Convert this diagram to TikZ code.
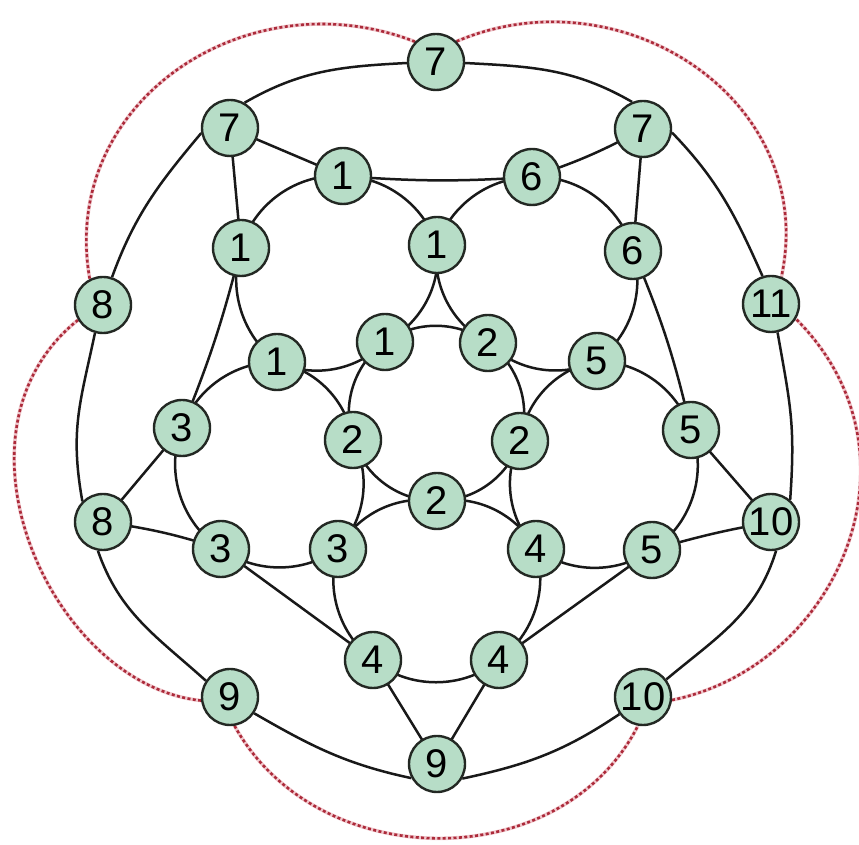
\documentclass[tikz,border=0pt]{standalone}
\usepackage{fontspec}
\setmainfont{Liberation Sans}
\usetikzlibrary{backgrounds}
\definecolor{nodefill}{RGB}{183,221,199}
\definecolor{nodeline}{RGB}{35,40,35}
\definecolor{edgecol}{RGB}{25,25,25}
\definecolor{dotred}{RGB}{172,42,58}
\definecolor{dothalo}{RGB}{240,200,205}
\tikzset{
  vtx/.style={circle, draw=nodeline, fill=nodefill, line width=2.4pt, minimum size=56pt, inner sep=0pt, font=\fontsize{40}{40}\selectfont},
  conn/.style={draw=edgecol, line width=2.5pt},
  ringarc/.style={conn, looseness=0.94},
  dotarc/.style={draw=dotred, line width=2.6pt, dash pattern=on 3pt off 2.4pt, preaction={draw=dothalo, line width=3.6pt, solid}}
}
\begin{document}
\begin{tikzpicture}[x=1pt,y=1pt]
\useasboundingbox (0,0) rectangle (859,845);
% nodes
\node[vtx] (A) at (436,783) {7};
\node[vtx] (B) at (230,717) {7};
\node[vtx] (C) at (643,716) {7};
\node[vtx] (D) at (343,669) {1};
\node[vtx] (E) at (532,668) {6};
\node[vtx] (F) at (241,597) {1};
\node[vtx] (G) at (437,600) {1};
\node[vtx] (H) at (633,594) {6};
\node[vtx] (I) at (103,540) {8};
\node[vtx] (J) at (771,541) {11};
\node[vtx] (K) at (277,483) {1};
\node[vtx] (L) at (385,503) {1};
\node[vtx] (M) at (488,502) {2};
\node[vtx] (N) at (597,484) {5};
\node[vtx] (O) at (182,417) {3};
\node[vtx] (P) at (353,405) {2};
\node[vtx] (Q) at (520,404) {2};
\node[vtx] (R) at (691,415) {5};
\node[vtx] (S) at (437,344) {2};
\node[vtx] (T) at (103,323) {8};
\node[vtx] (U) at (221,296) {3};
\node[vtx] (V) at (338,296) {3};
\node[vtx] (W) at (536,296) {4};
\node[vtx] (X) at (652,295) {5};
\node[vtx] (Y) at (771,323) {10};
\node[vtx] (Z) at (373,185) {4};
\node[vtx] (AA) at (499,185) {4};
\node[vtx] (AB) at (230,148) {9};
\node[vtx] (AC) at (643,148) {10};
\node[vtx] (AD) at (437,81) {9};
\begin{pgfonlayer}{background}
\fill[white] (0,0) rectangle (859,845);
% ring 1
\draw[ringarc] (D.center) to[bend left=35] (G.center);
\draw[ringarc] (G.center) to[bend left=35] (L.center);
\draw[ringarc] (L.center) to[bend left=35] (K.center);
\draw[ringarc] (K.center) to[bend left=35] (F.center);
\draw[ringarc] (F.center) to[bend left=39] (D.center);
% ring 2
\draw[ringarc] (E.center) to[bend left=39] (H.center);
\draw[ringarc] (H.center) to[bend left=35] (N.center);
\draw[ringarc] (N.center) to[bend left=35] (M.center);
\draw[ringarc] (M.center) to[bend left=35] (G.center);
\draw[ringarc] (G.center) to[bend left=35] (E.center);
% ring 3
\draw[ringarc] (L.center) to[bend left=36] (M.center);
\draw[ringarc] (M.center) to[bend left=36] (Q.center);
\draw[ringarc] (Q.center) to[bend left=36] (S.center);
\draw[ringarc] (S.center) to[bend left=36] (P.center);
\draw[ringarc] (P.center) to[bend left=36] (L.center);
% ring 4
\draw[ringarc] (K.center) to[bend left=35] (P.center);
\draw[ringarc] (P.center) to[bend left=35] (V.center);
\draw[ringarc] (V.center) to[bend left=35] (U.center);
\draw[ringarc] (U.center) to[bend left=40] (O.center);
\draw[ringarc] (O.center) to[bend left=35] (K.center);
% ring 5
\draw[ringarc] (N.center) to[bend left=35] (R.center);
\draw[ringarc] (R.center) to[bend left=40] (X.center);
\draw[ringarc] (X.center) to[bend left=35] (W.center);
\draw[ringarc] (W.center) to[bend left=35] (Q.center);
\draw[ringarc] (Q.center) to[bend left=36] (N.center);
% ring 6
\draw[ringarc] (V.center) to[bend left=35] (S.center);
\draw[ringarc] (S.center) to[bend left=35] (W.center);
\draw[ringarc] (W.center) to[bend left=35] (AA.center);
\draw[ringarc] (AA.center) to[bend left=40] (Z.center);
\draw[ringarc] (Z.center) to[bend left=35] (V.center);
% triangle edges
\draw[conn] (B.center) -- (D.center);
\draw[conn] (B.center) -- (F.center);
\draw[conn] (C.center) -- (H.center);
\draw[conn] (R.center) -- (Y.center);
\draw[conn] (X.center) -- (AA.center);
\draw[conn] (Z.center) -- (AD.center);
\draw[conn] (AA.center) -- (AD.center);
\draw[conn] (U.center) -- (Z.center);
\draw[conn] (T.center) -- (O.center);
\draw[conn] (D.center) to[bend right=4] (E.center);
\draw[conn] (E.center) to[bend right=5] (C.center);
\draw[conn] (H.center) to[bend left=5] (R.center);
\draw[conn] (X.center) to[bend left=3] (Y.center);
\draw[conn] (T.center) to[bend left=5] (U.center);
\draw[conn] (F.center) to[bend left=4] (O.center);
% outer edges
\draw[conn] (A.182) to[out=183, in=30] (B.60);
\draw[conn] (A.-2) to[out=-3, in=150] (C.112);
\draw[conn] (B.190) to[out=230, in=70] (I.72);
\draw[conn] (C.-7) to[out=-46, in=114] (J.107);
\draw[conn] (I.254) to[out=258, in=100, looseness=1.1] (T.135);
\draw[conn] (J.283) to[out=-80, in=86, looseness=1.15] (Y.49);
\draw[conn] (T.260) to[out=-71, in=138] (AB.146);
\draw[conn] (Y.-80) to[out=-107, in=40] (AC.37);
\draw[conn] (AB.-34) to[out=-30, in=168] (AD.209);
\draw[conn] (AC.216) to[out=214, in=12] (AD.-30);
% dotted outer arcs
\draw[dotarc] (A.136) .. controls +(158.6:180pt) and +(100:180pt) .. (I.117);
\draw[dotarc] (A.45) .. controls +(23:180pt) and +(78:180pt) .. (J.69);
\draw[dotarc] (I.211) .. controls +(218.7:180pt) and +(174:150pt) .. (AB.187);
\draw[dotarc] (AB.-81) .. controls +(-61:170pt) and +(243:170pt) .. (AC.260);
\draw[dotarc] (AC.-6) .. controls +(11.6:170pt) and +(-45:190pt) .. (J.-31.6);
\end{pgfonlayer}
\end{tikzpicture}
\end{document}
